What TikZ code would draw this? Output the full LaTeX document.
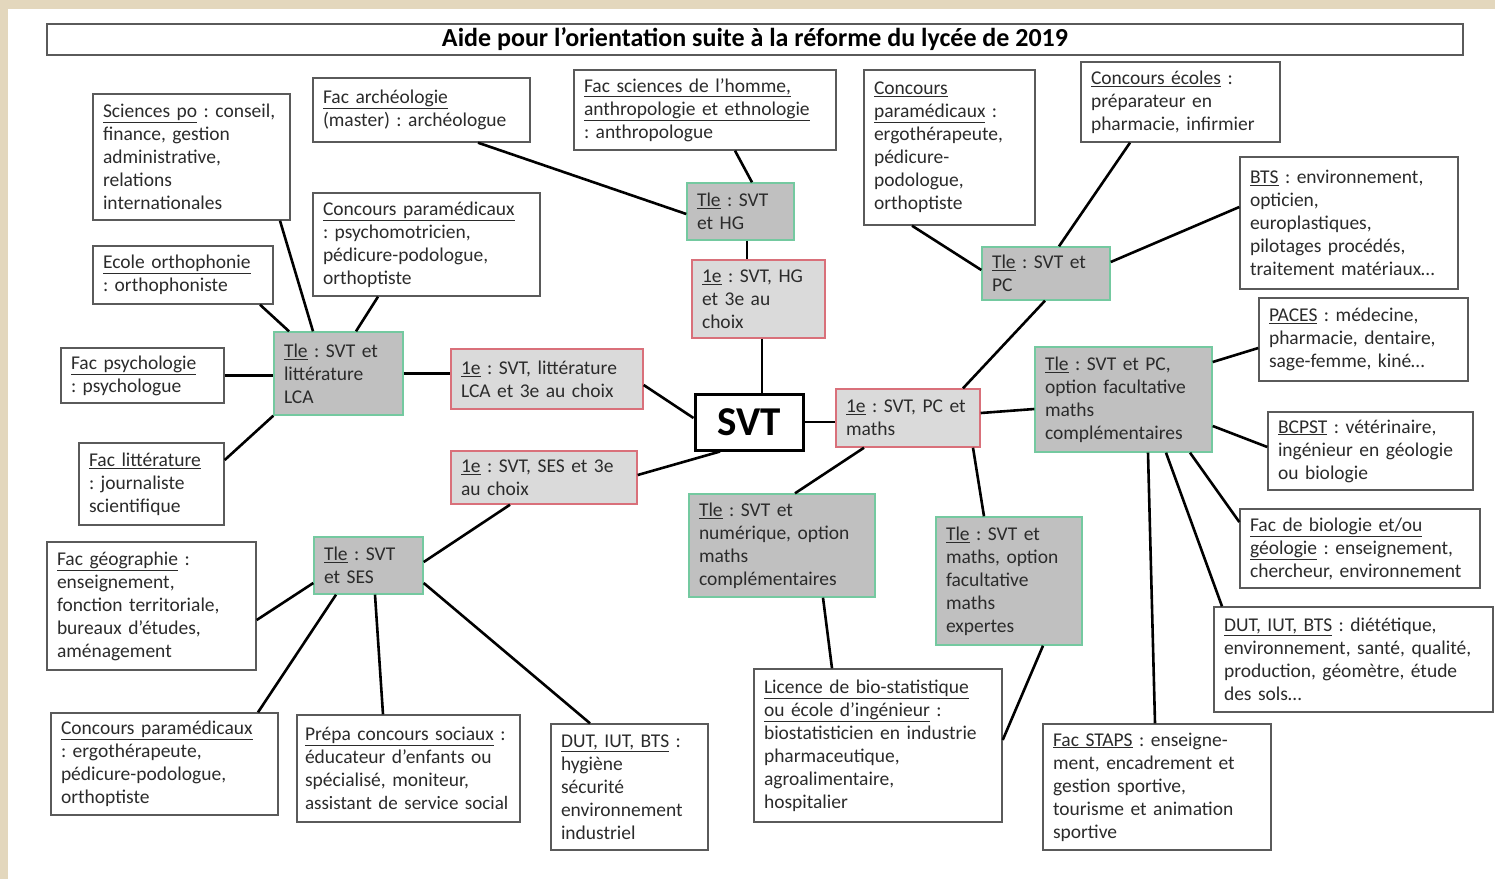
\documentclass[tikz,border=0pt]{standalone}
\usepackage{fontspec}
\setmainfont{Carlito}
\frenchspacing
\hyphenpenalty=10000
\exhyphenpenalty=10000
\definecolor{bordergray}{HTML}{5A5A5A}
\definecolor{txt}{HTML}{2B2B2B}
\definecolor{tlefill}{HTML}{C0C0C0}
\definecolor{tlegreen}{HTML}{74C9A0}
\definecolor{premfill}{HTML}{DADADA}
\definecolor{premred}{HTML}{D9707A}
\definecolor{beige}{HTML}{E3D7BD}
\newcommand\myul[1]{\underline{#1}}
\newcommand\fs{\fontsize{19.5}{23}\selectfont}
\tikzset{
  base/.style={draw, line width=1.4pt, inner xsep=10pt, inner ysep=4pt, align=left, font=\fs, text=txt},
  wbox/.style={base, draw=bordergray, fill=white},
  tle/.style={base, draw=tlegreen, fill=tlefill},
  prem/.style={base, draw=premred, fill=premfill},
  conn/.style={line width=2.6pt, black},
  sz/.style n args={3}{minimum width=#1pt, minimum height=#2pt, text width=#3pt}
}
\begin{document}
\begin{tikzpicture}[x=1pt,y=-1pt]
\useasboundingbox (0,0) rectangle (1495,879);
\fill[beige] (0,0) rectangle (1495,879);
\fill[white] (8,9) rectangle (1495,879);

% title
\node[draw=bordergray, line width=1.6pt, minimum width=1416pt, minimum height=31pt, inner sep=0pt, font=\fontsize{26}{28}\selectfont\bfseries] (title) at (755,39.5) {Aide pour l’orientation suite à la réforme du lycée de 2019};

% white boxes
\node[wbox, sz={197}{126}{177}] (sp) at (191.5,157) {\myul{Sciences po} : conseil,\\finance, gestion\\administrative,\\relations\\internationales};
\node[wbox, sz={217}{64}{197}] (arch) at (421.5,110) {\myul{Fac archéologie}\\(master) : archéologue};
\node[wbox, sz={262}{80}{242}] (homme) at (705,110) {\myul{Fac sciences de l’homme,}\\\myul{anthropologie et ethnologie}\\: anthropologue};
\node[wbox, sz={171}{155}{151}] (cpr) at (949.5,147.5) {\myul{Concours}\\\myul{paramédicaux} :\\ergothérapeute,\\pédicure-\\podologue,\\orthoptiste};
\node[wbox, sz={199}{80}{179}] (ecoles) at (1180.5,102) {\myul{Concours écoles} :\\préparateur en\\pharmacie, infirmier};
\node[wbox, sz={218}{132}{198}] (bts) at (1349,223) {\myul{BTS} : environnement,\\opticien,\\europlastiques,\\pilotages procédés,\\traitement matériaux…};
\node[wbox, sz={227}{103}{207}] (cpl) at (426.5,244.5) {\myul{Concours paramédicaux}\\: psychomotricien,\\pédicure-podologue,\\orthoptiste};
\node[wbox, sz={180}{58}{160}] (ortho) at (183,275) {\myul{Ecole orthophonie}\\: orthophoniste};
\node[wbox, sz={163}{55}{143}] (psy) at (142.5,375.5) {\myul{Fac psychologie}\\: psychologue};
\node[wbox, sz={145}{82}{125}] (litt) at (151.5,484) {\myul{Fac littérature}\\: journaliste\\scientifique};
\node[wbox, sz={209}{128}{189}] (geo) at (151.5,606) {\myul{Fac géographie} :\\enseignement,\\fonction territoriale,\\bureaux d’études,\\aménagement};
\node[wbox, sz={227}{102}{207}] (cpb) at (164.5,764) {\myul{Concours paramédicaux}\\: ergothérapeute,\\pédicure-podologue,\\orthoptiste};
\node[wbox, sz={223}{107}{207}, inner xsep=8pt] (prepa) at (408.5,768.5) {\myul{Prépa concours sociaux} :\\éducateur d’enfants ou\\spécialisé, moniteur,\\\mbox{\fontsize{19}{23}\selectfont assistant de service social}};
\node[wbox, sz={157}{126}{137}] (dutl) at (629.5,787) {\myul{DUT, IUT, BTS} :\\hygiène\\sécurité\\environnement\\industriel};
\node[wbox, sz={248}{153}{228}] (lic) at (878,745.5) {\myul{Licence de bio-statistique}\\\myul{ou école d’ingénieur} :\\biostatisticien en industrie\\pharmaceutique,\\agroalimentaire,\\hospitalier};
\node[wbox, sz={228}{126}{208}] (staps) at (1157,787) {\myul{Fac STAPS} : enseigne-\\ment, encadrement et\\gestion sportive,\\tourisme et animation\\sportive};
\node[wbox, sz={279}{105}{259}] (dutr) at (1353.5,659.5) {\myul{DUT, IUT, BTS} : diététique,\\environnement, santé, qualité,\\production, géomètre, étude\\des sols…};
\node[wbox, sz={240}{79}{220}] (bio) at (1360,548.5) {\myul{Fac de biologie et/ou}\\\myul{géologie} : enseignement,\\chercheur, environnement};
\node[wbox, sz={205}{78}{185}] (bcpst) at (1370.5,451) {\myul{BCPST} : vétérinaire,\\ingénieur en géologie\\ou biologie};
\node[wbox, sz={209}{83}{189}] (paces) at (1363.5,339.5) {\myul{PACES} : médecine,\\pharmacie, dentaire,\\sage-femme, kiné…};

% Tle boxes
\node[tle, sz={107}{57}{87}] (thg) at (740.5,211.5) {\myul{Tle} : SVT\\et HG};
\node[tle, sz={129}{83}{109}] (tlca) at (338.5,373.5) {\myul{Tle} : SVT et\\littérature\\LCA};
\node[tle, sz={109}{57}{89}] (tses) at (368.5,565.5) {\myul{Tle} : SVT\\et SES};
\node[tle, sz={128}{53}{108}] (tpc) at (1046,273.5) {\myul{Tle} : SVT et\\PC};
\node[tle, sz={177}{105}{157}] (tpco) at (1123.5,399.5) {\myul{Tle} : SVT et PC,\\option facultative\\maths\\complémentaires};
\node[tle, sz={186}{103}{166}] (tnum) at (782,545.5) {\myul{Tle} : SVT et\\numérique, option\\maths\\complémentaires};
\node[tle, sz={146}{128}{126}] (tmath) at (1009,581) {\myul{Tle} : SVT et\\maths, option\\facultative\\maths\\expertes};

% 1e boxes
\node[prem, sz={133}{78}{113}] (phg) at (758.5,299) {\myul{1e} : SVT, HG\\et 3e au\\choix};
\node[prem, sz={192}{60}{172}] (plit) at (547,379) {\myul{1e} : SVT, littérature\\LCA et 3e au choix};
\node[prem, sz={186}{53}{166}] (pses) at (544,477.5) {\myul{1e} : SVT, SES et 3e\\au choix};
\node[prem, sz={144}{58}{124}] (ppc) at (908,418) {\myul{1e} : SVT, PC et\\maths};

% SVT
\node[draw=black, line width=3pt, fill=white, minimum width=108pt, minimum height=56pt, inner sep=0pt, font=\fontsize{41}{45}\selectfont\bfseries] (svt) at (749,422) {SVT};

% connectors
\draw[conn] ([xshift=88.5pt]sp.south) -- ([xshift=-25.5pt]tlca.north);
\draw[conn] ([xshift=77pt]ortho.south) -- ([xshift=-49.5pt]tlca.north);
\draw[conn] ([xshift=-48.5pt]cpl.south) -- ([xshift=17.5pt]tlca.north);
\draw[conn] (psy.east) -- (psy.east -| tlca.west);
\draw[conn] ([yshift=24pt]litt.east) -- (tlca.south west);
\draw[conn] (tlca.east) -- (tlca.east -| plit.west);
\draw[conn] ([yshift=-6pt]plit.east) -- ([yshift=4pt]svt.west);
\draw[conn] ([xshift=56.5pt]arch.south) -- ([yshift=-2.5pt]thg.west);
\draw[conn] ([xshift=30pt]homme.south) -- ([xshift=11.5pt]thg.north);
\draw[conn] ([xshift=6.5pt]thg.south) -- ([xshift=-11.5pt]phg.north);
\draw[conn] ([xshift=3.5pt]phg.south) -- ([xshift=13pt]svt.north);
\draw[conn] ([xshift=-29pt]svt.south) -- ([yshift=2.5pt]pses.east);
\draw[conn] ([xshift=-34pt]pses.south) -- ([yshift=3.5pt]tses.east);
\draw[conn] ([yshift=-17.5pt]tses.west) -- ([yshift=-14pt]geo.east);
\draw[conn] ([xshift=-32.5pt]tses.south) -- ([xshift=93.5pt]cpb.north);
\draw[conn] ([xshift=6.5pt]tses.south) -- ([xshift=-25.5pt]prepa.north);
\draw[conn] ([yshift=-17.5pt]tses.east) -- ([xshift=-39.5pt]dutl.north);
\draw[conn] (svt.east) -- (svt.east -| ppc.west);
\draw[conn] ([xshift=55pt]ppc.north) -- ([xshift=-1pt]tpc.south);
\draw[conn] ([yshift=5pt]ppc.east) -- ([yshift=-9.5pt]tpco.west);
\draw[conn] ([xshift=-44pt]ppc.south) -- ([xshift=13pt]tnum.north);
\draw[conn] ([xshift=65pt]ppc.south) -- ([xshift=-25pt]tmath.north);
\draw[conn] ([xshift=41pt]tnum.south) -- ([xshift=-46pt]lic.north);
\draw[conn] ([xshift=34pt]tmath.south) -- ([yshift=5.5pt]lic.east);
\draw[conn] ([xshift=-37.5pt]cpr.south) -- ([yshift=3.5pt]tpc.west);
\draw[conn] ([xshift=-50.5pt]ecoles.south) -- ([xshift=13pt]tpc.north);
\draw[conn] ([yshift=16pt]bts.west) -- ([yshift=11.5pt]tpc.east);
\draw[conn] ([yshift=37.5pt]tpco.east) -- ([yshift=-8.5pt]paces.west);
\draw[conn] ([yshift=-26.5pt]tpco.east) -- ([yshift=4pt]bcpst.west);
\draw[conn] ([xshift=66.5pt]tpco.south) -- ([yshift=26.5pt]bio.west);
\draw[conn] ([xshift=42.5pt]tpco.south) -- ([xshift=-131.5pt]dutr.north);
\draw[conn] ([xshift=24.5pt]tpco.south) -- ([xshift=-2pt]staps.north);
\end{tikzpicture}
\end{document}
